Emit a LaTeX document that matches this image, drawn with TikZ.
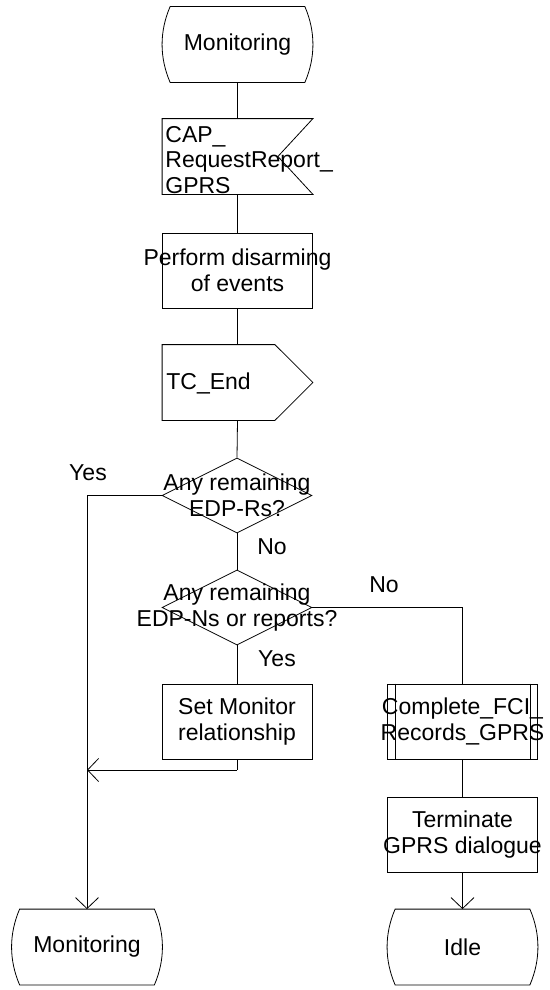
\documentclass[tikz,border=0pt]{standalone}
\usepackage{fontspec}
\setmainfont{Liberation Sans}
\usetikzlibrary{arrows.meta,shapes.geometric,calc}
\newcommand{\fsz}{\fontsize{23}{25.5}\selectfont}
\newcommand{\stateshape}[1]{%
  \draw ($(#1.north west)+(8,0)$) -- ($(#1.north east)+(-8,0)$)
    .. controls ($(#1.north east)+(2.7,25)$) and ($(#1.south east)+(2.7,-25)$) .. ($(#1.south east)+(-8,0)$)
    -- ($(#1.south west)+(8,0)$)
    .. controls ($(#1.south west)+(-2.7,-25)$) and ($(#1.north west)+(-2.7,25)$) .. cycle;}
\begin{document}
\begin{tikzpicture}[x=1pt,y=-1pt,line width=0.8pt,
  frame/.style={rectangle,minimum width=150pt,minimum height=75pt,inner sep=0pt},
  boxed/.style={frame,draw},
  dia/.style={diamond,draw,minimum width=150pt,minimum height=75pt,inner sep=0pt},
  txt/.style={font=\fsz,align=center,inner sep=0pt},
  ltxt/.style={font=\fsz,align=left,inner sep=0pt,anchor=west},
  arr/.style={-{Straight Barb[length=11pt,width=23pt]}}]
\useasboundingbox (0,0) rectangle (549,990);

% top state
\node[frame] (mon1) at (237.5,44.5) {};
\stateshape{mon1}
\node[txt] (mon1t) at (mon1) {Monitoring};

% input signal
\node[frame] (cap) at (237.5,156.5) {};
\draw (cap.north west) -- (cap.north east) -- ($(cap.east)+(-35,0)$) -- (cap.south east) -- (cap.south west) -- cycle;
\node[ltxt] (capt) at (165,160) {CAP\_\\RequestReport\_\\GPRS};

% task
\node[boxed] (perf) at (237.5,270.5) {};
\node[txt] (perft) at (perf) {Perform disarming\\of events};

% output signal
\node[frame] (tce) at (237.5,382.5) {};
\draw (tce.north west) -- ($(tce.north east)+(-38,0)$) -- (tce.east) -- ($(tce.south east)+(-38,0)$) -- (tce.south west) -- cycle;
\node[ltxt] (tcet) at (166,383) {TC\_End};

% decision 1
\node[dia] (d1) at (237,495.5) {};
\node[txt] (d1t) at (d1) {Any remaining\\EDP-Rs?};

% decision 2
\node[dia] (d2) at (237,607.5) {};
\node[txt] (d2t) at (d2) {Any remaining\\EDP-Ns or reports?};

% set monitor
\node[boxed] (setm) at (237,721.5) {};
\node[txt] (setmt) at (setm) {Set Monitor\\relationship};

% procedure call
\node[boxed] (fci) at (462.5,721.5) {};
\draw ($(fci.north west)+(8,0)$) -- ($(fci.south west)+(8,0)$);
\draw ($(fci.north east)+(-8,0)$) -- ($(fci.south east)+(-8,0)$);
\node[txt] (fcit) at (fci) {Complete\_FCI\_\\Records\_GPRS};

% terminate
\node[boxed] (term) at (462.5,834.5) {};
\node[txt] (termt) at (term) {Terminate\\GPRS dialogue};

% end states
\node[frame] (mon2) at (87,947) {};
\stateshape{mon2}
\node[txt] (mon2t) at (mon2) {Monitoring};

\node[frame] (idle) at (462.5,947) {};
\stateshape{idle}
\node[txt] (idlet) at (idle) {Idle};

% connectors
\draw (mon1.south) -- (cap.north);
\draw (cap.south) -- (perf.north);
\draw (perf.south) -- (tce.north);
\draw (tce.south) -- (d1.north);
\draw[arr] (d1.west) -| (mon2.north);
\draw (d1.south) -- (d2.north);
\draw (d2.south) -- (setm.north);
\draw (d2.east) -| (fci.north);
\coordinate (j1) at (237,770);
\coordinate (j2) at (87,770);
\draw (setm.south) -- (j1);
\draw[arr] (j1) -- (j2);
\draw (fci.south) -- (term.north);
\draw[arr] (term.south) -- (idle.north);

% labels
\node[txt] (y1) at (88,473) {Yes};
\node[txt] (n1) at (272,547) {No};
\node[txt] (n2) at (384,585) {No};
\node[txt] (y2) at (277,659) {Yes};
\end{tikzpicture}
\end{document}
